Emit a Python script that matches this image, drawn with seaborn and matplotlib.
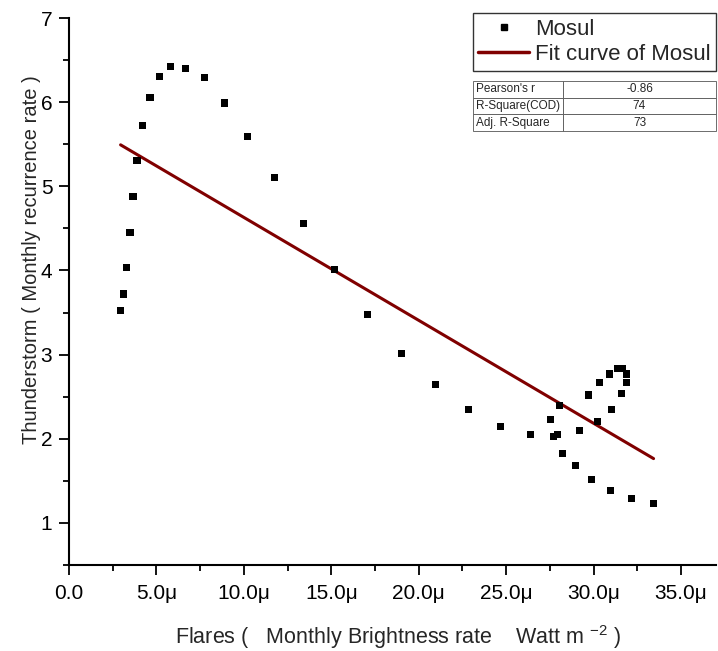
import numpy as np
import pandas as pd
import matplotlib
matplotlib.use("Agg")
import matplotlib.pyplot as plt
from matplotlib.ticker import MultipleLocator, FuncFormatter
from matplotlib.lines import Line2D
import seaborn as sns

# Flares (micro Watt m^-2) and Thunderstorm monthly recurrence rate
flares = [2.95, 3.13, 3.28, 3.49, 3.66, 3.89, 4.21, 4.63, 5.16, 5.83, 6.67, 7.73,
          8.90, 10.23, 11.75, 13.41, 15.18, 17.05, 19.00, 20.97, 22.87, 24.70,
          26.38, 27.52, 27.70, 27.95, 28.07, 28.21, 28.97, 29.18, 29.89, 30.23,
          29.71, 30.34, 30.90, 31.35, 31.67, 31.89, 31.89, 31.60, 31.00, 30.97,
          32.19, 33.43]
thunder = [3.52, 3.72, 4.03, 4.45, 4.88, 5.31, 5.72, 6.06, 6.31, 6.42, 6.40, 6.29,
           5.99, 5.59, 5.10, 4.56, 4.01, 3.48, 3.01, 2.65, 2.35, 2.15,
           2.05, 2.23, 2.03, 2.05, 2.40, 1.82, 1.68, 2.10, 1.52, 2.21,
           2.52, 2.67, 2.77, 2.83, 2.83, 2.77, 2.67, 2.54, 2.35, 1.39,
           1.29, 1.23]

stat_names = ["Pearson's r", "R-Square(COD)", "Adj. R-Square"]
stat_values = ["-0.86", "74", "73"]

df = pd.DataFrame({"x": flares, "y": thunder})
slope, intercept = np.polyfit(df["x"], df["y"], 1)
fit = pd.DataFrame({"x": [df["x"].min(), df["x"].max()]})
fit["y"] = intercept + slope * fit["x"]

sns.set_style("ticks")
plt.rcParams["font.family"] = ["Liberation Sans", "DejaVu Sans"]
plt.rcParams["mathtext.default"] = "regular"

fig = plt.figure(figsize=(7.18, 6.51), dpi=100)
ax = fig.add_axes([69/718, 1-565/651, 647/718, 547/651])

sns.scatterplot(data=df, x="x", y="y", marker="s", s=26, color="black",
                edgecolor="none", ax=ax, zorder=3)
sns.lineplot(data=fit, x="x", y="y", color="#800000", lw=2.2, ax=ax, zorder=2)

ax.set_xlim(0, 37)
ax.set_ylim(0.5, 7)
ax.xaxis.set_major_locator(MultipleLocator(5))
ax.xaxis.set_minor_locator(MultipleLocator(2.5))
ax.yaxis.set_major_locator(MultipleLocator(1))
ax.yaxis.set_minor_locator(MultipleLocator(0.5))
ax.xaxis.set_major_formatter(FuncFormatter(lambda v, p: "0.0" if abs(v) < 1e-9 else f"{v:.1f}\u03bc"))
ax.yaxis.set_major_formatter(FuncFormatter(lambda v, p: f"{v:.0f}"))
ax.tick_params(which="major", direction="out", length=7, width=1.3, labelsize=15,
               color="black", labelcolor="black")
ax.tick_params(axis="x", which="major", pad=7)
ax.tick_params(axis="y", which="major", pad=5)
ax.tick_params(which="minor", direction="out", length=4, width=1.3, color="black")
for s in ["left", "bottom"]:
    ax.spines[s].set_linewidth(1.5)
    ax.spines[s].set_color("black")
sns.despine(ax=ax)

ax.set_xlabel("Flares (   Monthly Brightness rate    Watt m $^{-2}$ )", fontsize=15.5)
ax.set_ylabel("Thunderstorm ( Monthly recurrence rate )", fontsize=14.5)
ax.xaxis.set_label_coords((398.5-69)/647, -(623-565)/547)
ax.yaxis.set_label_coords((41-69)/647, 1-(260-18)/547)

handles = [Line2D([], [], marker="s", ls="none", color="black", markersize=4.5),
           Line2D([], [], color="#800000", lw=2.5)]
leg = fig.legend(handles, ["Mosul", "Fit curve of Mosul"], loc="upper right",
                 bbox_to_anchor=(716/718, 1-13/651), fontsize=16, frameon=True,
                 fancybox=False, edgecolor="black", handlelength=2.27,
                 borderaxespad=0, borderpad=0.25, labelspacing=0.2, handletextpad=0.27)
leg.get_frame().set_linewidth(1.0)

cell = [[n, v] for n, v in zip(stat_names, stat_values)]
tab = ax.table(cellText=cell, colWidths=[0.37, 0.63],
               bbox=[(473-69)/647, 1-(131-18)/547, (716-473)/647, 50/547])
tab.auto_set_font_size(False)
tab.set_fontsize(8.5)
for (r, c), cl in tab.get_celld().items():
    cl.set_linewidth(0.6)
    cl.set_edgecolor("#555555")
    cl.get_text().set_ha("left" if c == 0 else "center")
    if c == 0:
        cl.PAD = 0.03

fig.savefig("out.png", dpi=100)
